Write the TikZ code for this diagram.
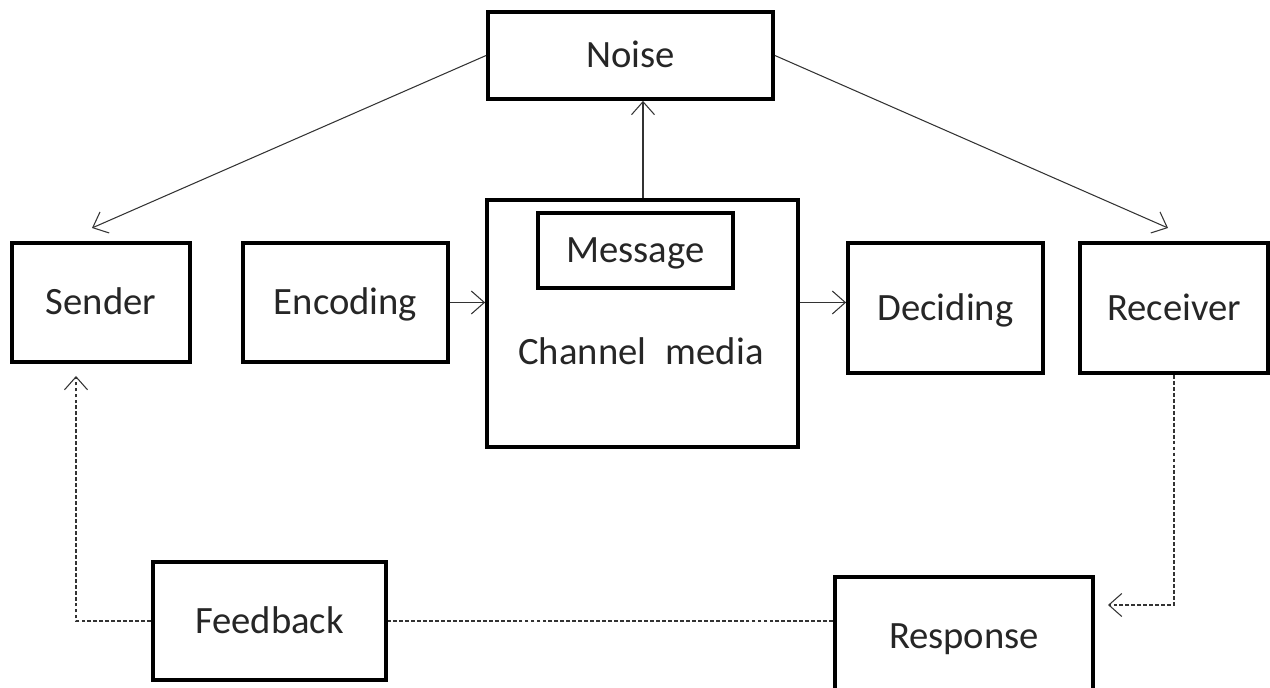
\documentclass[tikz,border=0pt]{standalone}
\usepackage{fontspec}
\setmainfont{Carlito}
\usepackage{tikz}
\usetikzlibrary{arrows.meta,calc}
\tikzset{
  box/.style={draw, line width=2.2pt, align=center, inner sep=0pt, text height=14.2pt, text depth=0pt, font=\fontsize{22}{26}\selectfont, text=black!85},
  line/.style={-{Straight Barb[length=2.6mm,width=4.6mm]}, line width=0.6pt, black!80},
  dline/.style={line width=0.6pt, black!80, dash pattern=on 2.2pt off 1.2pt},
  darrow/.style={dline, -{Straight Barb[length=2.6mm,width=4.6mm]}}
}
\begin{document}
\begin{tikzpicture}[x=0.02cm, y=-0.02cm]
  \useasboundingbox (0,0) rectangle (1270,688);
  \node[box, minimum width=5.7cm, minimum height=1.74cm] (noise) at (630.5,55.5) {Noise};
  \node[box, minimum width=3.56cm, minimum height=2.38cm] (sender) at (101,302.5) {Sender};
  \node[box, minimum width=4.1cm, minimum height=2.38cm] (encoding) at (345.5,302.5) {Encoding};
  \node[box, minimum width=6.22cm, minimum height=4.94cm] (channel) at (642.5,323.5) {};
  \node[box, minimum width=3.9cm, minimum height=1.5cm] (message) at (635.5,250.5) {Message};
  \node[font=\fontsize{22}{26}\selectfont, text=black!85, text height=14.2pt, text depth=0pt] (media) at (641,352) {Channel\hspace{0.5em}media};
  \node[box, minimum width=3.9cm, minimum height=2.6cm] (deciding) at (945.5,308) {Deciding};
  \node[box, minimum width=3.76cm, minimum height=2.6cm] (receiver) at (1174,308) {Receiver};
  \node[box, minimum width=4.66cm, minimum height=2.36cm] (feedback) at (269.5,621) {Feedback};
  \node[box, minimum width=5.16cm, minimum height=2.36cm] (response) at (964,636) {Response};
  % free ends of the connectors
  \coordinate (sendtip) at (92,228);
  \coordinate (recvtip) at (1168,228);
  \coordinate (chtop) at ($(channel.north)+(0.5,0)$);
  \coordinate (resptip) at (1108,605);
  \coordinate (backtip) at (76,376);
  % noise
  \draw[line] (noise.west) -- (sendtip);
  \draw[line] (noise.east) -- (recvtip);
  \draw[line] (chtop) -- (chtop |- noise.south);
  % main flow
  \draw[line] (encoding.east) -- (encoding.east -| channel.west);
  \draw[line] (channel.east |- encoding.east) -- (deciding.west |- encoding.east);
  % feedback loop
  \draw[darrow] (receiver.south) |- (resptip);
  \draw[dline] (response.west |- feedback.east) -- (feedback.east);
  \draw[darrow] (feedback.west) -| (backtip);
\end{tikzpicture}
\end{document}
